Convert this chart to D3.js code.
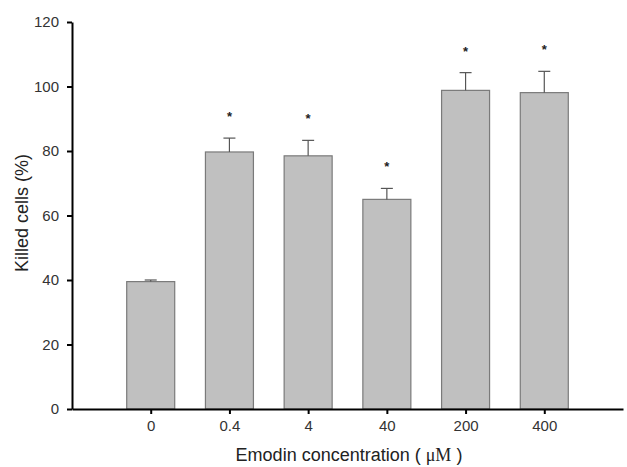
<!DOCTYPE html>
<html>
<head>
<meta charset="utf-8">
<script src="https://cdn.jsdelivr.net/npm/d3@7"></script>
<style>
  body { margin: 0; background: #fff; }
  text { font-family: "Liberation Sans", Arial, sans-serif; }
</style>
</head>
<body>
<div id="chart"></div>
<script>
var width = 627;
var height = 467;

// data
var concentrations = ['0', '0.4', '4', '40', '200', '400'];
var killed = [39.5, 79.7, 78.5, 65.0, 98.8, 98.1];
var errors = [0.5, 4.3, 4.8, 3.4, 5.5, 6.6];
var significant = [false, true, true, true, true, true];
var yTicks = [0, 20, 40, 60, 80, 100, 120];

var x0 = 72, x1 = 623, y0 = 409, y1 = 22;
var barWidth = 48;

var svg = d3.select('#chart')
    .append('svg')
    .attr('width', width)
    .attr('height', height);

var x = d3.scalePoint()
    .domain(concentrations)
    .range([x0, x1])
    .padding(1);

var y = d3.scaleLinear()
    .domain([0, 120])
    .range([y0, y1]);

var rows = concentrations.map(function(c, i){
    return {c: c, v: killed[i], e: errors[i], s: significant[i]};
});

// bars
svg.selectAll('rect.bar')
    .data(rows)
    .enter()
    .append('rect')
    .attr('class', 'bar')
    .attr('x', function(d){ return x(d.c) - barWidth / 2; })
    .attr('y', function(d){ return y(d.v); })
    .attr('width', barWidth)
    .attr('height', function(d){ return y0 - y(d.v); })
    .attr('fill', '#c0c0c0')
    .attr('stroke', '#7a7a7a')
    .attr('stroke-width', 1.2);

// error bars, upper half only
svg.selectAll('line.err')
    .data(rows)
    .enter()
    .append('line')
    .attr('x1', function(d){ return x(d.c); })
    .attr('x2', function(d){ return x(d.c); })
    .attr('y1', function(d){ return y(d.v); })
    .attr('y2', function(d){ return y(d.v + d.e); })
    .attr('stroke', '#555')
    .attr('stroke-width', 1.2);

svg.selectAll('line.cap')
    .data(rows)
    .enter()
    .append('line')
    .attr('x1', function(d){ return x(d.c) - 6; })
    .attr('x2', function(d){ return x(d.c) + 6; })
    .attr('y1', function(d){ return y(d.v + d.e); })
    .attr('y2', function(d){ return y(d.v + d.e); })
    .attr('stroke', '#555')
    .attr('stroke-width', 1.2);

// significance stars
svg.selectAll('text.star')
    .data(rows.filter(function(d){ return d.s; }))
    .enter()
    .append('text')
    .attr('x', function(d){ return x(d.c); })
    .attr('y', function(d){ return y(d.v + d.e) - 24 + 7; })
    .attr('text-anchor', 'middle')
    .style('font-size', '13px')
    .style('font-weight', 'bold')
    .attr('fill', '#222')
    .text('*');

// axes
var yAxis = svg.append('g')
    .attr('transform', 'translate(' + x0 + ',0)')
    .call(d3.axisLeft(y).tickValues(yTicks).tickSize(5).tickSizeOuter(0));

var xAxis = svg.append('g')
    .attr('transform', 'translate(0,' + y0 + ')')
    .call(d3.axisBottom(x).tickSize(5).tickSizeOuter(0));

svg.selectAll('.domain').attr('stroke', '#000').attr('stroke-width', 2);
svg.selectAll('.tick line').attr('stroke', '#000').attr('stroke-width', 2);
svg.selectAll('.tick text')
    .style('font-family', '"Liberation Sans", Arial, sans-serif')
    .style('font-size', '15px')
    .attr('fill', '#333');
yAxis.selectAll('.tick text').attr('x', -13);
xAxis.selectAll('.tick text').attr('y', 11);

// axis titles
svg.append('text')
    .attr('transform', 'translate(28,' + 213 + ') rotate(-90)')
    .attr('text-anchor', 'middle')
    .style('font-size', '18px')
    .attr('fill', '#222')
    .text('Killed cells (%)');

var xt = svg.append('text')
    .attr('x', 349)
    .attr('y', 461)
    .attr('text-anchor', 'middle')
    .style('font-size', '18px')
    .attr('fill', '#222');
xt.append('tspan').text('Emodin concentration ( ');
xt.append('tspan').style('font-family', '"Liberation Serif", "Times New Roman", serif').text('\u03bcM');
xt.append('tspan').text(' )');
</script>
</body>
</html>
